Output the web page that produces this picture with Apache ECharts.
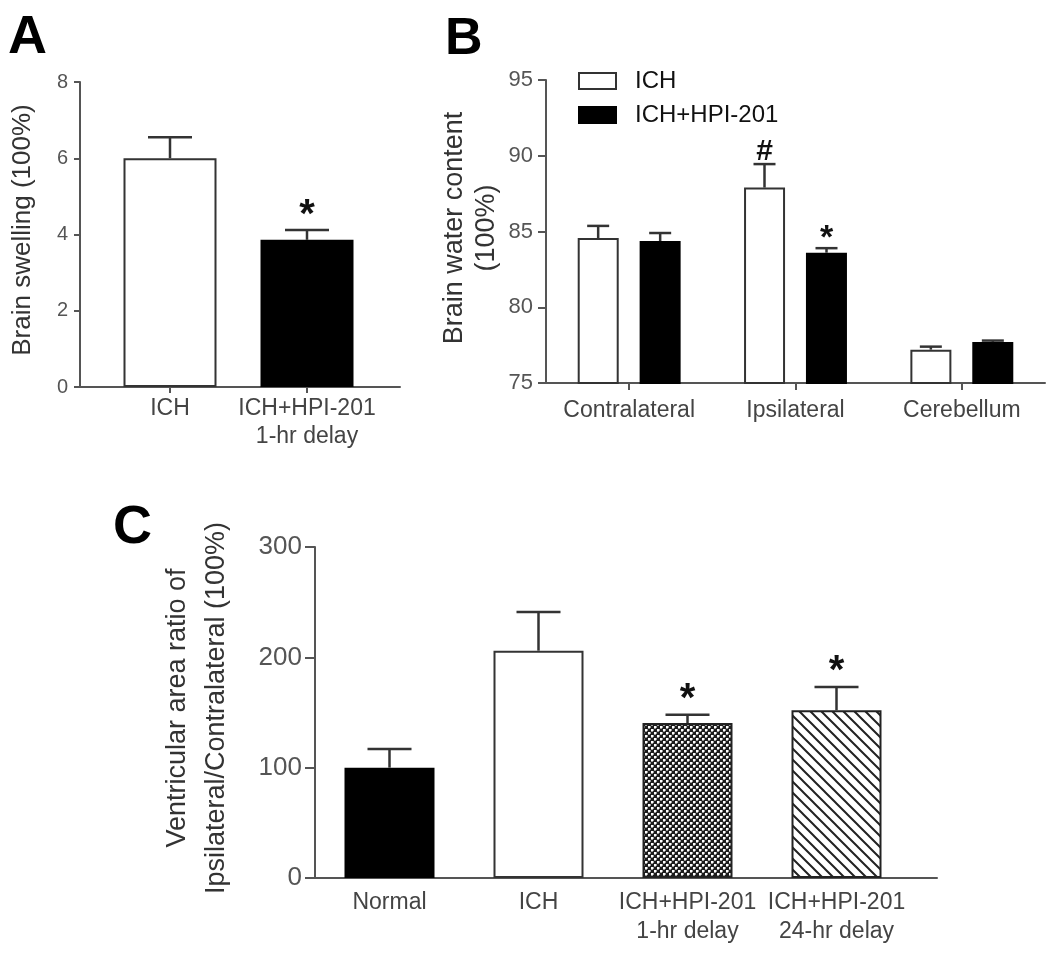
<!DOCTYPE html>
<html><head><meta charset="utf-8">
<script src="https://cdn.jsdelivr.net/npm/echarts@6/dist/echarts.min.js"></script>
<style>html,body{margin:0;padding:0;background:#fff}#c{width:1050px;height:956px}</style>
</head><body><div id="c"></div>
<script>
// ---------- Panel A ----------
const aCategories = ['ICH', 'ICH+HPI-201\n1-hr delay'];
const aMeans = [6.0, 3.86];
const aErrors = [0.55, 0.26];
const aMarks = ['', '*'];
const aTicks = [0, 2, 4, 6, 8];

// ---------- Panel B ----------
const bCategories = ['Contralateral', 'Ipsilateral', 'Cerebellum'];
const bSeriesNames = ['ICH', 'ICH+HPI-201'];
const bIchMeans = [84.57, 87.9, 77.2];
const bIchErrors = [0.8, 1.55, 0.2];
const bHpiMeans = [84.37, 83.6, 77.7];
const bHpiErrors = [0.53, 0.3, 0.1];
const bIchMarks = ['', '#', ''];
const bHpiMarks = ['', '*', ''];
const bTicks = [75, 80, 85, 90, 95];

// ---------- Panel C ----------
const cCategories = ['Normal', 'ICH', 'ICH+HPI-201\n1-hr delay', 'ICH+HPI-201\n24-hr delay'];
const cMeans = [100, 206, 140.5, 152];
const cErrors = [17, 35, 7.5, 21];
const cMarks = ['', '', '*', '*'];
const cTicks = [0, 100, 200, 300];

// ---------- styles ----------
const FONT = "'Liberation Sans', Arial, Helvetica, sans-serif";
const AX = '#555';
const LBL = '#444';
const EDGE = '#333';

function dotPattern() {
  const s = 6, c = document.createElement('canvas');
  c.width = s; c.height = s;
  const g = c.getContext('2d');
  g.fillStyle = '#1c1c1c'; g.fillRect(0, 0, s, s);
  g.fillStyle = '#ffffff';
  g.fillRect(0, 0, 2, 2);
  g.fillRect(3, 3, 2, 2);
  g.fillStyle = '#9a9a9a';
  g.fillRect(2, 0, 1, 2); g.fillRect(0, 2, 2, 1);
  g.fillRect(5, 3, 1, 2); g.fillRect(3, 5, 2, 1);
  return { image: c, repeat: 'repeat' };
}
function hatchPattern() {
  const s = 11, c = document.createElement('canvas');
  c.width = s; c.height = s;
  const g = c.getContext('2d');
  g.fillStyle = '#fff'; g.fillRect(0, 0, s, s);
  g.strokeStyle = '#222'; g.lineWidth = 2;
  g.beginPath();
  g.moveTo(-1, -1); g.lineTo(s + 1, s + 1);
  g.moveTo(-1, s - 1); g.lineTo(1, s + 1);
  g.moveTo(s - 1, -1); g.lineTo(s + 1, 1);
  g.stroke();
  return { image: c, repeat: 'repeat' };
}

const aFills = ['#ffffff', '#000000'];
const aEdges = [EDGE, '#000'];
const cFills = ['#000000', '#ffffff', dotPattern(), hatchPattern()];
const cEdges = ['#000', EDGE, '#222', '#222'];

function errorRender(means, errs, marks, o) {
  return function (params, api) {
    const i = params.dataIndex;
    const p0 = api.coord([i, means[i]]);
    const p1 = api.coord([i, means[i] + errs[i]]);
    const cx = p0[0] + (o.dx || 0);
    const ls = { stroke: '#333', lineWidth: 2.5 };
    const children = [
      { type: 'line', shape: { x1: cx, y1: p0[1], x2: cx, y2: p1[1] }, style: ls },
      { type: 'line', shape: { x1: cx - o.cap, y1: p1[1], x2: cx + o.cap, y2: p1[1] }, style: ls }
    ];
    const m = marks[i];
    if (m) {
      const gap = m === '#' ? o.hashGap : o.starGap;
      const fs = m === '#' ? o.hashSize : o.starSize;
      children.push({
        type: 'text', x: cx, y: p1[1] - gap,
        style: { text: m, textAlign: 'center', textVerticalAlign: 'middle',
                 font: 'bold ' + fs + 'px ' + FONT, fill: '#111' }
      });
    }
    return { type: 'group', children };
  };
}

function valueY(gridIndex, ticks, tickLen, fs, margin, offset) {
  return {
    type: 'value', gridIndex, min: ticks[0], max: ticks[ticks.length - 1],
    interval: ticks[1] - ticks[0], offset: offset || 0,
    axisLine: { show: true, lineStyle: { color: AX, width: 2 } },
    axisTick: { show: true, length: tickLen, lineStyle: { color: AX, width: 2 } },
    axisLabel: { fontSize: fs, color: '#555', fontFamily: FONT, margin },
    splitLine: { show: false }
  };
}
function lineOnlyX(gridIndex) {
  return { type: 'value', gridIndex, min: 0, max: 1,
    axisLine: { show: true, onZero: false, lineStyle: { color: AX, width: 2 } },
    axisTick: { show: false }, axisLabel: { show: false }, splitLine: { show: false } };
}
function hiddenY(gridIndex) {
  return { type: 'value', gridIndex, min: 0, max: 1, show: false };
}

const option = {
  animation: false,
  backgroundColor: '#fff',
  grid: [
    { left: 101.5, top: 82, width: 274, height: 305 },   // A bars
    { left: 80, top: 82, width: 320, height: 305 },      // A baseline
    { left: 546, top: 80, width: 499, height: 303 },     // B
    { left: 315, top: 547, width: 596, height: 331 },    // C bars
    { left: 315, top: 547, width: 622, height: 331 }     // C baseline
  ],
  xAxis: [
    { type: 'category', gridIndex: 0, data: aCategories,
      axisLine: { show: false },
      axisTick: { show: true, alignWithLabel: true, length: 6, lineStyle: { color: AX, width: 2 } },
      axisLabel: { fontSize: 23, lineHeight: 28, color: LBL, fontFamily: FONT, margin: 8, interval: 0 } },
    lineOnlyX(1),
    { type: 'category', gridIndex: 2, data: bCategories,
      axisLine: { show: true, lineStyle: { color: AX, width: 2 } },
      axisTick: { show: true, alignWithLabel: true, length: 7, lineStyle: { color: AX, width: 2 } },
      axisLabel: { fontSize: 23, color: LBL, fontFamily: FONT, margin: 16, interval: 0 } },
    { type: 'category', gridIndex: 3, data: cCategories,
      axisLine: { show: false }, axisTick: { show: false },
      axisLabel: { fontSize: 23, lineHeight: 29, color: LBL, fontFamily: FONT, margin: 10, interval: 0 } },
    lineOnlyX(4)
  ],
  yAxis: [
    valueY(0, aTicks, 6, 20, 12, 21.5),
    hiddenY(1),
    valueY(2, bTicks, 8, 22, 13),
    valueY(3, cTicks, 10, 26, 13),
    hiddenY(4)
  ],
  legend: {
    data: bSeriesNames, orient: 'vertical', left: 573, top: 64,
    itemWidth: 37, itemHeight: 16, itemGap: 10, icon: 'rect', selectedMode: false,
    textStyle: { fontSize: 24, color: '#111', fontFamily: FONT, padding: [0, 0, 0, 14] }
  },
  series: [
    { name: 'A', type: 'bar', xAxisIndex: 0, yAxisIndex: 0, barWidth: 93,
      data: aMeans.map((v, i) => ({ value: v, itemStyle: { color: aFills[i], borderColor: aEdges[i], borderWidth: 2 } })) },
    { type: 'custom', xAxisIndex: 0, yAxisIndex: 0, z: 5,
      data: aMeans.map((v, i) => [i, v]),
      renderItem: errorRender(aMeans, aErrors, aMarks, { cap: 22, starGap: 14, starSize: 40 }) },

    { name: bSeriesNames[0], type: 'bar', xAxisIndex: 2, yAxisIndex: 2, barWidth: 41, barGap: '51%',
      itemStyle: { color: '#fff', borderColor: EDGE, borderWidth: 2 }, data: bIchMeans },
    { name: bSeriesNames[1], type: 'bar', xAxisIndex: 2, yAxisIndex: 2, barWidth: 41, barGap: '51%',
      itemStyle: { color: '#000', borderColor: '#000', borderWidth: 2 }, data: bHpiMeans },
    { type: 'custom', xAxisIndex: 2, yAxisIndex: 2, z: 5,
      data: bIchMeans.map((v, i) => [i, v]),
      renderItem: errorRender(bIchMeans, bIchErrors, bIchMarks, { dx: -31, cap: 11, hashGap: 12, hashSize: 30, starGap: 10, starSize: 34 }) },
    { type: 'custom', xAxisIndex: 2, yAxisIndex: 2, z: 5,
      data: bHpiMeans.map((v, i) => [i, v]),
      renderItem: errorRender(bHpiMeans, bHpiErrors, bHpiMarks, { dx: 31, cap: 11, hashGap: 12, hashSize: 30, starGap: 10, starSize: 34 }) },

    { name: 'C', type: 'bar', xAxisIndex: 3, yAxisIndex: 3, barWidth: 90,
      data: cMeans.map((v, i) => ({ value: v, itemStyle: { color: cFills[i], borderColor: cEdges[i], borderWidth: 2 } })) },
    { type: 'custom', xAxisIndex: 3, yAxisIndex: 3, z: 5,
      data: cMeans.map((v, i) => [i, v]),
      renderItem: errorRender(cMeans, cErrors, cMarks, { cap: 22, starGap: 15, starSize: 40 }) }
  ],
  graphic: [
    { type: 'text', x: 8, y: 38, style: { text: 'A', font: 'bold 54px ' + FONT, fill: '#000', textVerticalAlign: 'middle' } },
    { type: 'text', x: 445, y: 40, style: { text: 'B', font: 'bold 52px ' + FONT, fill: '#000', textVerticalAlign: 'middle' } },
    { type: 'text', x: 113, y: 528, style: { text: 'C', font: 'bold 54px ' + FONT, fill: '#000', textVerticalAlign: 'middle' } },
    { type: 'text', x: 23, y: 230, rotation: Math.PI / 2,
      style: { text: 'Brain swelling (100%)', font: '26px ' + FONT, fill: '#333', textAlign: 'center', textVerticalAlign: 'middle' } },
    { type: 'text', x: 471, y: 228, rotation: Math.PI / 2,
      style: { text: 'Brain water content\n(100%)', font: '27px ' + FONT, lineHeight: 32, fill: '#333', textAlign: 'center', textVerticalAlign: 'middle' } },
    { type: 'text', x: 197, y: 708, rotation: Math.PI / 2,
      style: { text: 'Ventricular area ratio of\nIpsilateral/Contralateral (100%)', font: '27px ' + FONT, lineHeight: 39, fill: '#333', textAlign: 'center', textVerticalAlign: 'middle' } }
  ]
};

const chart = echarts.init(document.getElementById('c'), null, { renderer: 'canvas' });
chart.setOption(option);
</script>
</body></html>
